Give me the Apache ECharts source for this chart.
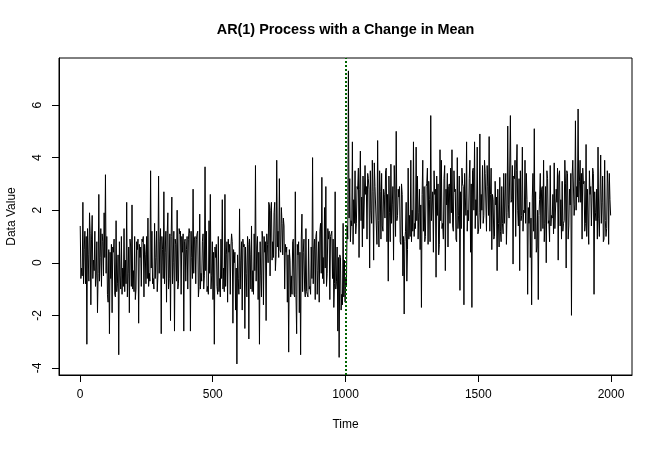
<!DOCTYPE html>
<html>
<head>
<meta charset="utf-8">
<script src="https://cdn.jsdelivr.net/npm/echarts@6/dist/echarts.min.js"></script>
<style>html,body{margin:0;padding:0;background:#fff}#c{width:662px;height:449px}</style>
</head>
<body>
<div id="c"></div>
<script>
// Readings every 5 steps (t = 1 + 5i) plus in-between readings (t = 3.5 + 5i)
const timeStart = 1;
const timeStep = 5;
const midOffset = 2.5;
const changePoint = 1000;
const xTicks = [0, 500, 1000, 1500, 2000];
const yTicks = [-4, -2, 0, 2, 4, 6];

// readings at t = 1 + 5i
const seg1 = [1.4,-0.2,2.3,0.5,-0.8,-3.1,0.3,1.9,-1.6,1.8,
0.1,1.2,-0.5,-1.9,2.6,0.2,-0.9,0.8,1.9,3.35,
1.0,-1.5,-2.7,-0.6,-1.9,0.4,-1.2,1.6,-0.8,-3.5,
-0.5,1.0,-0.2,1.3,0.1,2.3,-0.4,-1.9,0.6,2.2,
-0.3,1.0,-1.0,0.5,-2.3,0.2,-0.9,0.8,-1.3,0.3,
1.0,1.7,-0.4,3.5,1.2,-0.6,1.5,0.2,-1.1,3.3,
0.8,-2.7,0.5,2.7,0.4,-1.5,1.9,-0.6,-2.2,2.5,
0.0,-2.6,0.7,2.0,-0.8,1.1,-1.2,0.4,-2.6,0.9];
const seg2 = [0.5,-1.0,1.3,-2.6,0.2,2.8,0.9,-0.8,1.1,-1.3,
1.85,-0.4,0.8,-1.0,3.65,1.2,-0.9,1.6,2.6,-0.5,
-1.4,-3.1,0.2,-0.9,1.0,-0.6,0.9,2.4,-0.2,2.6,
0.3,-1.5,0.4,-1.2,1.1,-2.3,0.0,-1.8,-3.85,-0.6,
2.05,0.1,-1.8,0.6,-2.5,-0.4,1.0,-2.9,0.3,1.4,
-0.3,1.1,3.7,0.6,-1.4,-3.1,-0.5,1.2,-1.6,0.4,
-2.2,0.7,2.3,-0.5,2.3,0.8,1.9,-0.3,3.9,1.2,
3.2,0.4,1.5,1.7,-1.0,0.4,-1.5,-3.4,0.1,-0.5];
const seg3 = [0.8,-1.2,2.7,-2.7,0.3,-1.9,-3.5,1.85,0.4,-1.0,
1.3,-1.2,0.9,-0.9,0.6,4.0,0.5,-1.4,1.2,-0.3,
-1.5,1.5,3.25,0.2,2.1,2.9,-0.4,0.9,-1.4,1.1,
-0.6,-1.7,2.7,-0.7,-2.6,-3.6,0.2,-1.2,1.5,0.1,
-0.6,1.4,7.3,3.2,1.6,4.6,2.4,3.5,1.5,2.8,
0.2,4.25,2.5,3.3,1.3,2.6,0.9,3.2,-0.2,2.0,
3.9,0.1,2.9,1.4,4.65,0.6,2.7,3.4,1.2,2.6,
3.5,0.8,-0.7,1.9,3.75,2.2,0.1,2.8,5.0,1.8];
const seg4 = [2.5,0.8,3.0,-0.5,-1.95,1.2,-0.7,3.6,1.8,3.9,
2.0,4.6,1.5,4.4,3.3,1.9,0.5,-1.7,3.9,2.9,
1.0,3.0,0.7,2.4,5.6,1.6,0.4,2.6,-0.55,1.8,
0.3,4.3,3.9,1.5,3.2,-0.3,2.2,0.6,3.0,3.6,
4.3,1.2,2.7,0.9,4.0,1.8,-1.05,1.3,3.0,-1.6,
2.5,4.6,2.0,3.2,0.4,-1.7,3.6,4.6,2.4,4.4,
1.2,4.9,2.6,3.7,1.8,3.4,1.2,2.9,4.8,2.6,
0.5,2.4,1.0,2.2,-0.3,1.5,3.25,0.8,1.5,3.4];
const seg5 = [2.5,0.7,5.2,1.7,5.6,2.4,-0.05,3.2,1.0,4.5,
1.4,-0.3,1.6,4.4,2.0,3.9,3.4,-1.2,1.5,0.2,
-1.6,3.4,5.1,2.7,0.6,-1.4,2.4,1.2,2.9,3.9,
1.5,0.0,3.2,1.6,3.7,1.8,2.6,3.8,1.3,2.3,
0.1,3.5,2.4,3.1,1.5,3.9,-0.2,3.4,1.4,2.2,
-2.0,3.9,1.8,5.4,2.9,5.85,3.1,2.3,0.9,3.0,
1.2,4.5,2.8,0.7,2.6,1.4,3.6,-1.2,1.9,2.8,
4.4,1.0,4.1,2.3,0.8,3.9,1.0,3.5,0.7,2.4];

// readings at t = 3.5 + 5i (the dense core of the band)
const mid1 = [-0.6,-0.5,-0.8,1.2,1.0,1.3,-0.7,1.1,0.9,-0.6,
-0.3,-0.9,0.8,-0.4,-0.7,1.3,1.1,-0.5,0.2,-0.4,
-1.2,0.5,0.4,0.7,0.6,0.9,-1.3,-1.1,0.3,0.8,
-1.0,-1.2,-0.9,-1.1,-0.8,-1.3,0.6,0.9,-0.9,-1.0,
-1.1,-1.4,0.8,0.9,0.7,0.6,0.9,1.0,0.7,-0.8,
-0.6,-0.9,-0.7,-0.2,-0.8,-1.0,-0.6,1.2,-0.5,-0.4,
1.3,1.0,-0.6,-0.8,1.2,1.1,-1.0,1.1,1.0,-0.8,
1.2,0.9,-0.7,-1.0,1.3,1.2,1.0,1.1,0.8,-0.7];
const mid2 = [1.0,0.9,1.1,1.2,-0.6,-0.4,1.0,0.9,1.2,-0.9,
-1.0,-0.7,1.1,-0.5,-0.3,-1.1,-1.2,-0.4,-1.0,0.8,
0.4,0.6,0.7,-1.2,-1.1,-1.3,-0.6,-1.0,-1.1,-0.9,
0.8,0.9,0.7,0.6,0.8,0.5,0.4,-0.2,0.3,-1.2,
-1.0,0.8,0.9,0.7,0.6,-1.3,0.7,0.9,-1.0,-1.1,
-1.2,-0.3,-0.7,1.0,0.4,0.8,-1.3,0.9,1.0,0.8,
1.1,0.0,2.2,2.0,0.1,0.2,2.3,0.3,0.6,0.2,
0.5,2.1,0.3,1.4,0.7,0.6,0.3,0.5,-1.3,-1.2];
const mid3 = [0.9,-1.3,-1.2,0.7,0.8,0.4,0.9,-1.1,0.9,-1.3,
-1.1,-1.3,-1.0,-1.2,-0.6,-0.8,0.9,1.0,-1.2,0.8,
1.2,-0.4,-0.6,-0.8,-0.2,-0.9,1.3,1.2,1.0,1.2,
0.9,-0.8,-1.0,0.6,0.2,0.3,-1.8,-1.6,-1.3,-1.5,
-0.9,0.9,1.7,0.8,1.4,0.7,1.5,1.1,2.9,3.6,
2.8,1.6,0.6,1.3,3.7,2.9,3.4,2.8,3.5,1.5,
2.7,3.8,2.9,0.7,1.6,3.5,0.9,1.4,2.8,1.7,
3.6,2.6,3.3,0.8,1.5,2.9,3.7,1.0,1.6,2.8];
const mid4 = [2.9,0.7,2.6,1.0,0.8,2.3,0.5,0.9,1.0,0.8,
1.2,1.0,1.3,1.6,0.9,2.8,2.2,2.6,1.2,0.8,
2.9,3.6,3.1,0.8,1.6,2.7,3.5,2.8,3.3,3.0,
0.7,1.6,1.3,0.9,3.7,2.8,3.4,2.9,1.5,1.9,
1.4,3.5,2.8,0.8,1.3,3.3,2.7,3.6,2.9,3.4,
1.8,1.2,1.6,3.9,3.0,3.5,2.0,1.3,1.8,1.1,
1.9,1.3,2.0,1.5,3.9,3.4,3.7,1.8,1.2,3.6,
2.6,0.9,3.1,2.5,2.8,0.6,1.2,2.9,1.1,1.5];
const mid5 = [3.4,1.9,2.2,1.7,2.3,3.7,3.3,3.9,3.5,2.0,
3.2,3.5,1.8,1.2,1.9,1.5,2.4,2.1,2.3,1.7,
2.5,1.2,0.9,0.4,2.0,1.8,3.4,2.8,1.3,0.8,
2.9,3.5,1.5,0.8,1.4,1.7,1.1,1.3,2.8,3.6,
3.3,1.4,0.9,1.2,1.6,3.0,3.5,0.9,2.8,3.4,
3.3,3.9,2.2,2.0,2.5,2.3,3.9,3.4,3.6,3.1,
1.5,1.0,2.8,3.5,2.9,1.4,3.4,2.7,1.6,0.9,
1.7,1.0,1.5,3.3,0.9,1.6,1.3,3.0,3.4,1.8];

const mainVals = seg1.concat(seg2, seg3, seg4, seg5);
const midVals = mid1.concat(mid2, mid3, mid4, mid5);
const data = [];
mainVals.forEach((v, i) => {
  const t = timeStart + i * timeStep;
  data.push([t, v]);
  data.push([t + midOffset, midVals[i]]);
});

const font = "'Liberation Sans', Arial, Helvetica, sans-serif";
const chart = echarts.init(document.getElementById('c'), null, {renderer: 'canvas'});
chart.setOption({
  animation: false,
  backgroundColor: '#fff',
  grid: {left: 59, right: 30, top: 58, bottom: 74, show: true, borderColor: '#000', borderWidth: 1, backgroundColor: 'transparent'},
  xAxis: {
    type: 'value', min: -78.96, max: 2078.96,
    splitLine: {show: false},
    axisLine: {show: true, onZero: false, lineStyle: {color: '#000', width: 1}},
    axisTick: {show: true, customValues: xTicks, length: 7, lineStyle: {color: '#000'}},
    axisLabel: {customValues: xTicks, margin: 14, color: '#000', fontSize: 12, fontFamily: font, formatter: v => String(v)}
  },
  yAxis: {
    type: 'value', min: -4.27, max: 7.79,
    splitLine: {show: false},
    axisLine: {show: true, onZero: false, lineStyle: {color: '#000', width: 1}},
    axisTick: {show: true, customValues: yTicks, length: 7, lineStyle: {color: '#000'}},
    axisLabel: {customValues: yTicks, rotate: 90, margin: 15, color: '#000', fontSize: 12, fontFamily: font, formatter: v => String(v)}
  },
  series: [{
    type: 'line', data: data, symbol: 'none', showSymbol: false, sampling: null,
    lineStyle: {color: '#000', width: 1},
    markLine: {
      silent: true, symbol: ['none', 'none'], label: {show: false}, animation: false,
      lineStyle: {color: '#006400', type: [2, 2], width: 2},
      data: [{xAxis: changePoint}]
    }
  }],
  graphic: [
    {type: 'text', x: 345.5, y: 30, style: {text: 'AR(1) Process with a Change in Mean', font: 'bold 14.4px ' + font, fill: '#000', textAlign: 'center', textVerticalAlign: 'middle'}},
    {type: 'text', x: 345.5, y: 425, style: {text: 'Time', font: '12px ' + font, fill: '#000', textAlign: 'center', textVerticalAlign: 'middle'}},
    {type: 'text', x: 12, y: 216.5, rotation: Math.PI / 2, style: {text: 'Data Value', font: '12px ' + font, fill: '#000', textAlign: 'center', textVerticalAlign: 'middle'}}
  ]
});
</script>
</body>
</html>
